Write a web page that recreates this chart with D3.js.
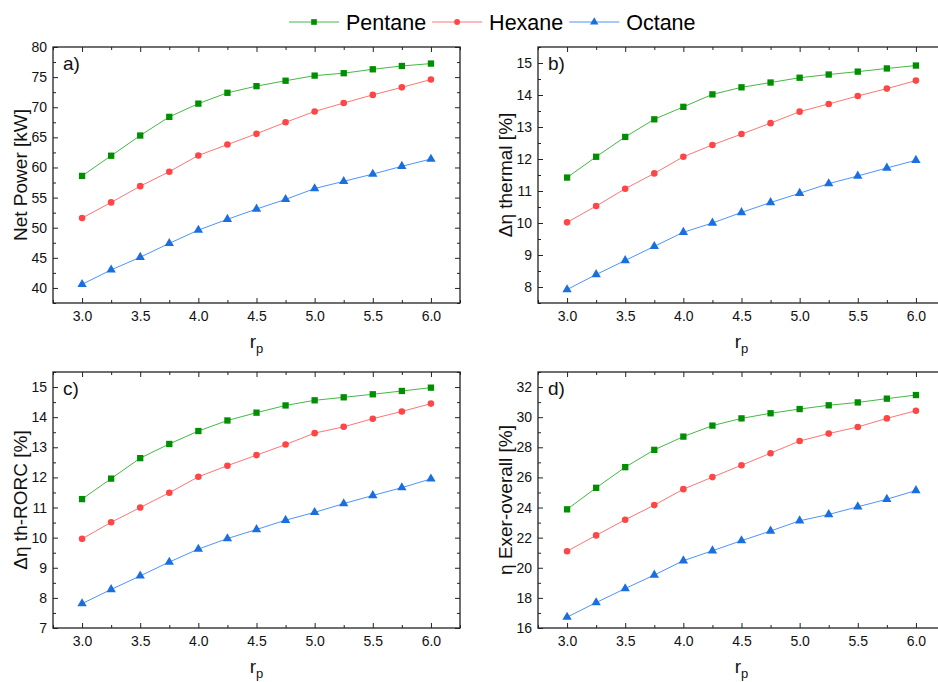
<!DOCTYPE html>
<html>
<head>
<meta charset="utf-8">
<script src="https://cdn.jsdelivr.net/npm/d3@7"></script>
<style>
  body { margin: 0; background: #fff; }
  svg { display: block; font-family: "Liberation Sans", Arial, sans-serif; }
</style>
</head>
<body>
<div id="chart"></div>
<script>
// pressure ratio r_p
const rp = [3.0, 3.25, 3.5, 3.75, 4.0, 4.25, 4.5, 4.75, 5.0, 5.25, 5.5, 5.75, 6.0];
const seriesNames = ["Pentane", "Hexane", "Octane"];

// a) Net Power [kW]
const powerPentane = [58.6, 61.95, 65.3, 68.4, 70.6, 72.4, 73.5, 74.4, 75.25, 75.65, 76.3, 76.85, 77.25];
const powerHexane  = [51.6, 54.2, 56.9, 59.3, 62.0, 63.8, 65.6, 67.5, 69.3, 70.7, 72.05, 73.3, 74.6];
const powerOctane  = [40.6, 43.0, 45.1, 47.4, 49.6, 51.4, 53.1, 54.7, 56.5, 57.7, 58.9, 60.2, 61.4];

// b) Δη thermal [%]
const thermPentane = [11.42, 12.07, 12.69, 13.24, 13.63, 14.02, 14.24, 14.39, 14.54, 14.64, 14.73, 14.83, 14.92];
const thermHexane  = [10.02, 10.53, 11.07, 11.55, 12.07, 12.44, 12.78, 13.12, 13.48, 13.72, 13.97, 14.2, 14.45];
const thermOctane  = [7.92, 8.39, 8.83, 9.27, 9.71, 10.0, 10.33, 10.64, 10.93, 11.23, 11.47, 11.72, 11.96];

// c) Δη th-RORC [%]
const rorcPentane = [11.28, 11.96, 12.64, 13.11, 13.54, 13.89, 14.15, 14.39, 14.56, 14.66, 14.76, 14.87, 14.98];
const rorcHexane  = [9.96, 10.51, 11.0, 11.49, 12.02, 12.39, 12.74, 13.09, 13.47, 13.68, 13.95, 14.19, 14.45];
const rorcOctane  = [7.81, 8.28, 8.73, 9.19, 9.62, 9.97, 10.27, 10.58, 10.84, 11.13, 11.4, 11.66, 11.95];

// d) η Exer-overall [%]
const exerPentane = [23.88, 25.31, 26.68, 27.83, 28.71, 29.44, 29.92, 30.26, 30.54, 30.79, 30.98, 31.23, 31.47];
const exerHexane  = [21.1, 22.15, 23.19, 24.16, 25.22, 26.02, 26.81, 27.61, 28.42, 28.91, 29.35, 29.92, 30.43];
const exerOctane  = [16.72, 17.69, 18.62, 19.52, 20.47, 21.13, 21.8, 22.44, 23.12, 23.54, 24.05, 24.55, 25.13];

const xTicks = [3.0, 3.5, 4.0, 4.5, 5.0, 5.5, 6.0];
const yTicksA = [40, 45, 50, 55, 60, 65, 70, 75, 80];
const yTicksB = [8, 9, 10, 11, 12, 13, 14, 15];
const yTicksC = [7, 8, 9, 10, 11, 12, 13, 14, 15];
const yTicksD = [16, 18, 20, 22, 24, 26, 28, 30, 32];

const width = 938;
const height = 682;

const markerColors = ["#008f00", "#ff4545", "#1a6fe0"];
const lineColors = ["#45b845", "#ff7575", "#4d94ff"];
const symbols = [d3.symbolSquare, d3.symbolCircle, d3.symbolTriangle];
const symbolSizes = [40, 34, 38];

const panels = [
    { label: "a)", title: "Net Power [kW]", data: [powerPentane, powerHexane, powerOctane],
      yDomain: [37.5, 80], yTicks: yTicksA, yMinor: 2.5, x0: 53, y0: 47 },
    { label: "b)", title: "\u0394\u03b7 thermal [%]", data: [thermPentane, thermHexane, thermOctane],
      yDomain: [7.5, 15.5], yTicks: yTicksB, yMinor: 0.5, x0: 538, y0: 47 },
    { label: "c)", title: "\u0394\u03b7 th-RORC [%]", data: [rorcPentane, rorcHexane, rorcOctane],
      yDomain: [7, 15.5], yTicks: yTicksC, yMinor: 0.5, x0: 53, y0: 372 },
    { label: "d)", title: "\u03b7 Exer-overall [%]", data: [exerPentane, exerHexane, exerOctane],
      yDomain: [16, 33], yTicks: yTicksD, yMinor: 1, x0: 538, y0: 372 }
];

const plotW = 407;
const plotH = 256;

const svg = d3.select("#chart")
    .append("svg")
    .attr("width", width)
    .attr("height", height);

function range(a, b, step) {
    const out = [];
    for (let v = a; v <= b + 1e-9; v += step) out.push(+v.toFixed(6));
    return out;
}

panels.forEach(p => {
    const g = svg.append("g").attr("transform", `translate(${p.x0},${p.y0})`);

    const x = d3.scaleLinear().domain([2.75, 6.25]).range([0, plotW]);
    const y = d3.scaleLinear().domain(p.yDomain).range([plotH, 0]);

    const xMinor = range(2.75, 6.25, 0.25).filter(v => !xTicks.includes(v));
    const yMinor = range(Math.ceil(p.yDomain[0] / p.yMinor) * p.yMinor, p.yDomain[1], p.yMinor)
        .filter(v => !p.yTicks.includes(v));

    // bottom axis with labels, ticks pointing inward
    g.append("g")
        .attr("transform", `translate(0,${plotH})`)
        .call(d3.axisBottom(x).tickValues(xTicks).tickSize(-5).tickPadding(8).tickFormat(d3.format(".1f")))
        .call(a => a.select(".domain").remove())
        .call(a => a.selectAll("text").attr("font-size", 14).attr("fill", "#111").attr("font-family", null));
    g.append("g")
        .attr("transform", `translate(0,${plotH})`)
        .call(d3.axisBottom(x).tickValues(xMinor).tickSize(-3).tickFormat(""))
        .call(a => a.select(".domain").remove());

    // top mirror
    g.append("g")
        .call(d3.axisTop(x).tickValues(xTicks).tickSize(-5).tickFormat(""))
        .call(a => a.select(".domain").remove());
    g.append("g")
        .call(d3.axisTop(x).tickValues(xMinor).tickSize(-3).tickFormat(""))
        .call(a => a.select(".domain").remove());

    // left axis
    g.append("g")
        .call(d3.axisLeft(y).tickValues(p.yTicks).tickSize(-5).tickPadding(6).tickFormat(d3.format("d")))
        .call(a => a.select(".domain").remove())
        .call(a => a.selectAll("text").attr("font-size", 14).attr("fill", "#111").attr("font-family", null));
    g.append("g")
        .call(d3.axisLeft(y).tickValues(yMinor).tickSize(-3).tickFormat(""))
        .call(a => a.select(".domain").remove());

    // right mirror
    g.append("g")
        .attr("transform", `translate(${plotW},0)`)
        .call(d3.axisRight(y).tickValues(p.yTicks).tickSize(-5).tickFormat(""))
        .call(a => a.select(".domain").remove());
    g.append("g")
        .attr("transform", `translate(${plotW},0)`)
        .call(d3.axisRight(y).tickValues(yMinor).tickSize(-3).tickFormat(""))
        .call(a => a.select(".domain").remove());

    g.selectAll(".tick line").attr("stroke", "#222").attr("stroke-width", 1);

    // frame
    g.append("rect")
        .attr("width", plotW)
        .attr("height", plotH)
        .attr("fill", "none")
        .attr("stroke", "#222")
        .attr("stroke-width", 1.3);

    // series
    p.data.forEach((vals, si) => {
        const pts = rp.map((r, i) => [r, vals[i]]);
        g.append("path")
            .datum(pts)
            .attr("fill", "none")
            .attr("stroke", lineColors[si])
            .attr("stroke-width", 1)
            .attr("d", d3.line().x(d => x(d[0])).y(d => y(d[1])));

        g.selectAll(null)
            .data(pts)
            .enter()
            .append("path")
            .attr("transform", d => `translate(${x(d[0])},${y(d[1])})`)
            .attr("d", d3.symbol().type(symbols[si]).size(symbolSizes[si]))
            .attr("fill", markerColors[si]);
    });

    // panel label
    g.append("text")
        .attr("x", 10)
        .attr("y", 23)
        .attr("font-size", 19)
        .attr("fill", "#111")
        .text(p.label);

    // y title
    g.append("text")
        .attr("transform", `translate(-26,${plotH / 2}) rotate(-90)`)
        .attr("text-anchor", "middle")
        .attr("font-size", 19)
        .attr("fill", "#111")
        .text(p.title);

    // x title r_p
    const xt = g.append("text")
        .attr("x", plotW / 2)
        .attr("y", plotH + 45)
        .attr("text-anchor", "middle")
        .attr("font-size", 19)
        .attr("fill", "#111");
    xt.append("tspan").text("r");
    xt.append("tspan").attr("font-size", 13).attr("dy", 5).text("p");
});

// legend
const legend = svg.append("g");
let lx = 289;
const ly = 22;
seriesNames.forEach((name, si) => {
    legend.append("line")
        .attr("x1", lx).attr("x2", lx + 50)
        .attr("y1", ly).attr("y2", ly)
        .attr("stroke", lineColors[si])
        .attr("stroke-width", 1);
    legend.append("path")
        .attr("transform", `translate(${lx + 25},${ly})`)
        .attr("d", d3.symbol().type(symbols[si]).size(symbolSizes[si] * 0.8))
        .attr("fill", markerColors[si]);
    const t = legend.append("text")
        .attr("x", lx + 57)
        .attr("y", ly + 7.5)
        .attr("font-size", 21.5)
        .attr("fill", "#000")
        .text(name);
    lx += 57 + t.node().getComputedTextLength() + 6;
});
</script>
</body>
</html>
